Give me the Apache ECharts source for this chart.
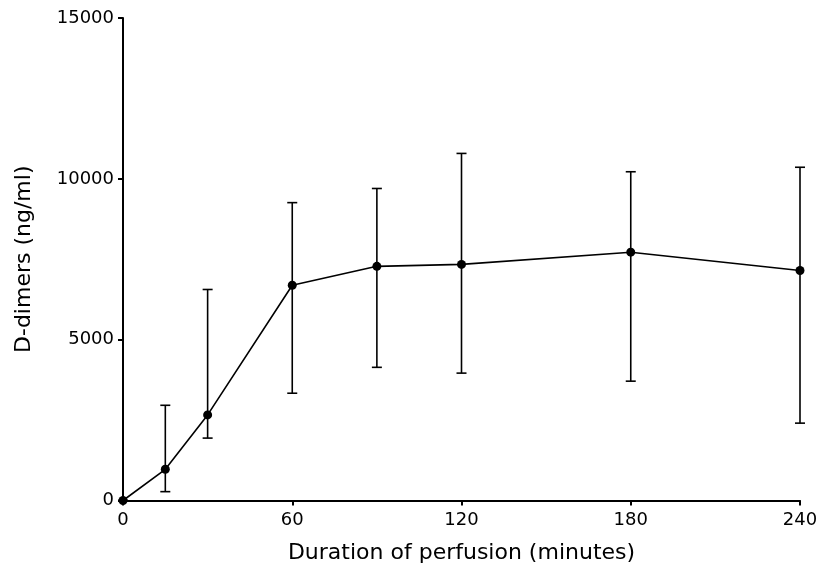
<!DOCTYPE html>
<html>
<head>
<meta charset="utf-8">
<script src="https://cdn.jsdelivr.net/npm/echarts@6/dist/echarts.min.js"></script>
<style>
  html, body { margin: 0; padding: 0; background: #fff; }
  #chart { width: 818px; height: 564px; }
</style>
</head>
<body>
<div id="chart"></div>
<script>
// minutes of perfusion
var minutes = [0, 15, 30, 60, 90, 120, 180, 240];
// mean D-dimers (ng/ml)
var means = [0, 970, 2660, 6690, 7280, 7340, 7720, 7150];
// error bar ends
var upper = [0, 2960, 6560, 9260, 9700, 10790, 10220, 10360];
var lower = [0, 275, 1940, 3335, 4140, 3960, 3710, 2405];

var xTicks = [0, 60, 120, 180, 240];
var yTicks = [0, 5000, 10000, 15000];

var chart = echarts.init(document.getElementById('chart'));

var lineData = minutes.map(function (m, i) { return [m, means[i]]; });
var errData = minutes.map(function (m, i) { return [m, lower[i], upper[i]]; });

var font = 'DejaVu Sans, Verdana, sans-serif';

chart.setOption({
  animation: false,
  grid: { left: 123, right: 18, top: 18, bottom: 63.5, containLabel: false, outerBoundsMode: 'none' },
  xAxis: {
    type: 'value',
    min: xTicks[0],
    max: xTicks[xTicks.length - 1],
    interval: 60,
    name: 'Duration of perfusion (minutes)',
    nameLocation: 'middle',
    nameGap: 42,
    nameTextStyle: { color: '#000', fontSize: 22, fontFamily: font },
    axisLine: { lineStyle: { color: '#000', width: 2 } },
    axisTick: { show: true, length: 5, lineStyle: { color: '#000', width: 2 } },
    axisLabel: { color: '#000', fontSize: 18, fontFamily: font, margin: 11,
      formatter: function (v) { return String(v); } },
    splitLine: { show: false }
  },
  yAxis: {
    type: 'value',
    min: yTicks[0],
    max: yTicks[yTicks.length - 1],
    interval: 5000,
    name: 'D-dimers (ng/ml)',
    nameLocation: 'middle',
    nameGap: 88,
    nameTextStyle: { color: '#000', fontSize: 22, fontFamily: font },
    axisLine: { show: true, lineStyle: { color: '#000', width: 2 } },
    axisTick: { show: true, length: 5, lineStyle: { color: '#000', width: 2 } },
    axisLabel: { color: '#000', fontSize: 18, fontFamily: font, margin: 9,
      formatter: function (v) { return String(v); } },
    splitLine: { show: false }
  },
  series: [
    {
      type: 'custom',
      name: 'error',
      data: errData,
      z: 2,
      renderItem: function (params, api) {
        var x = api.value(0);
        var lo = api.coord([x, api.value(1)]);
        var hi = api.coord([x, api.value(2)]);
        var w = 5;
        var st = { stroke: '#000', lineWidth: 1.6 };
        return {
          type: 'group',
          children: [
            { type: 'line', shape: { x1: lo[0], y1: lo[1], x2: hi[0], y2: hi[1] }, style: st },
            { type: 'line', shape: { x1: hi[0] - w, y1: hi[1], x2: hi[0] + w, y2: hi[1] }, style: st },
            { type: 'line', shape: { x1: lo[0] - w, y1: lo[1], x2: lo[0] + w, y2: lo[1] }, style: st }
          ]
        };
      }
    },
    {
      type: 'line',
      name: 'mean',
      data: lineData,
      z: 3,
      symbol: 'circle',
      symbolSize: 9,
      clip: false,
      itemStyle: { color: '#000' },
      lineStyle: { color: '#000', width: 1.6 }
    }
  ]
});
</script>
</body>
</html>
